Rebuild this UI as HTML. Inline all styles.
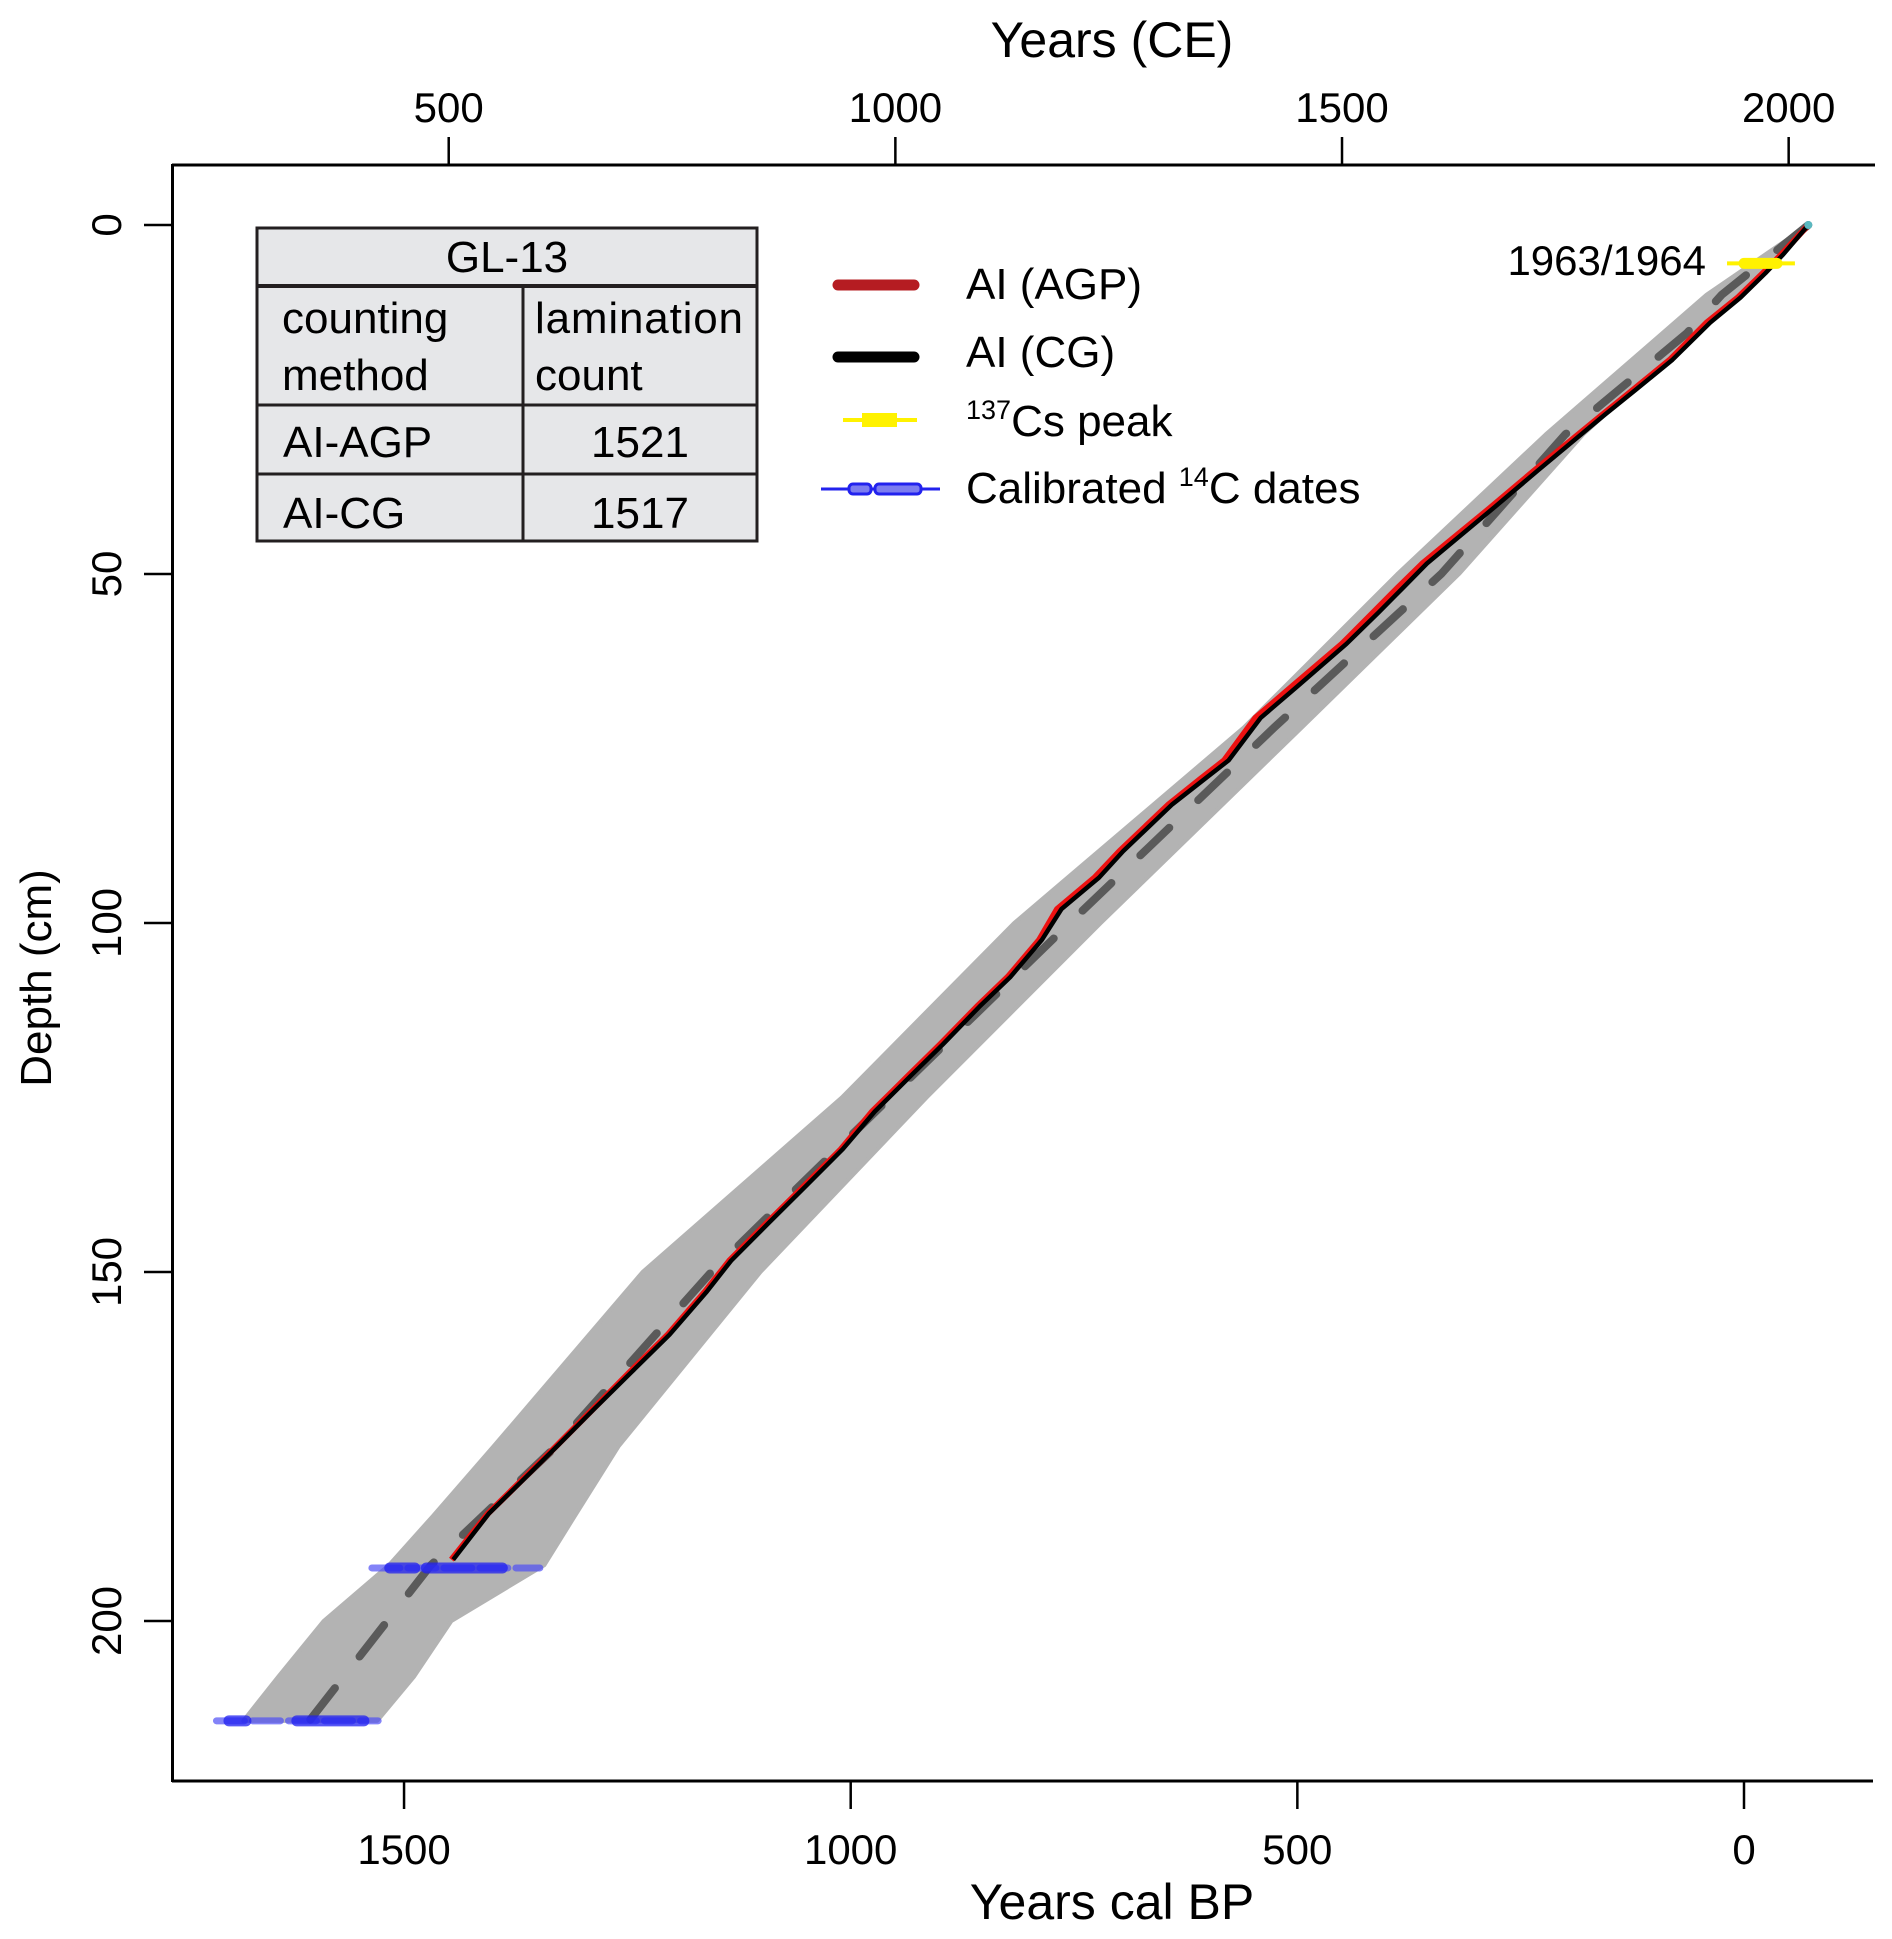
<!DOCTYPE html>
<html><head><meta charset="utf-8">
<style>
html,body{margin:0;padding:0;background:#fff;}
svg{display:block;font-family:"Liberation Sans",Arial,sans-serif;}
</style></head>
<body>
<svg id="chart" width="1892" height="1939" viewBox="0 0 1892 1939" xmlns="http://www.w3.org/2000/svg">
<g id="band"></g>
<g id="median"></g>
<g id="curves"></g>
<g id="dates"></g>
<g id="axes"></g>

<g>
  <rect x="257" y="228" width="500" height="313" fill="#e6e7e9" stroke="#231f20" stroke-width="3"/>
  <line x1="257" y1="286" x2="757" y2="286" stroke="#231f20" stroke-width="4"/>
  <line x1="257" y1="405" x2="757" y2="405" stroke="#231f20" stroke-width="3"/>
  <line x1="257" y1="474" x2="757" y2="474" stroke="#231f20" stroke-width="3"/>
  <line x1="523" y1="286" x2="523" y2="541" stroke="#231f20" stroke-width="3"/>
  <g font-size="44" fill="#000">
    <text x="507" y="272" text-anchor="middle">GL-13</text>
    <text x="282" y="333">counting</text>
    <text x="282" y="390">method</text>
    <text x="535" y="333" textLength="208">lamination</text>
    <text x="535" y="390">count</text>
    <text x="283" y="457">AI-AGP</text>
    <text x="640" y="457" text-anchor="middle">1521</text>
    <text x="283" y="528">AI-CG</text>
    <text x="640" y="528" text-anchor="middle">1517</text>
  </g>
</g>

<g font-size="44" fill="#000">
  <g>
    <line x1="838" y1="285" x2="914" y2="285" stroke="#b51c22" stroke-width="11" stroke-linecap="round"/>
    <text x="966" y="299">AI (AGP)</text>
  </g>
  <g>
    <line x1="838" y1="357" x2="914" y2="357" stroke="#000" stroke-width="11" stroke-linecap="round"/>
    <text x="966" y="367">AI (CG)</text>
  </g>
  <g>
    <line x1="843" y1="420" x2="917" y2="420" stroke="#fff200" stroke-width="4"/>
    <rect x="862" y="413" width="35" height="14" fill="#fff200"/>
    <text x="966" y="436"><tspan font-size="27" dy="-17">137</tspan><tspan dy="17">Cs peak</tspan></text>
  </g>
  <g>
    <line x1="821" y1="489" x2="940" y2="489" stroke="#2222ee" stroke-width="3"/>
    <rect x="849" y="484" width="22" height="10" rx="4" fill="#7c7cf0" stroke="#2222ee" stroke-width="3"/>
    <rect x="875" y="484" width="46" height="10" rx="4" fill="#7c7cf0" stroke="#2222ee" stroke-width="3"/>
    <text x="966" y="503">Calibrated <tspan font-size="27" dy="-17">14</tspan><tspan dy="17">C dates</tspan></text>
  </g>
</g>

<text x="1706" y="275" font-size="42" text-anchor="end">1963/1964</text>

<text x="1112" y="57" font-size="50" text-anchor="middle">Years (CE)</text>
<text x="1112" y="1919" font-size="50" text-anchor="middle">Years cal BP</text>
<text transform="translate(51,978) rotate(-90)" font-size="44" text-anchor="middle">Depth (cm)</text>

<script>
// ---- data ----
var agpDepth = [0, 4.2, 6.9, 10.4, 14, 19.3, 23.7, 27.2, 35.2, 40.5, 48.5, 52, 55.5, 60, 66, 70.6, 76.7, 79.4, 83, 89.7, 93.5, 98, 102.4, 107.7, 112, 117.4, 121.8, 127, 132.4, 137.8, 143, 148.4, 152.8, 159, 164.3, 169.6, 175, 180.2, 184.6, 191.2];
var agpBP = [-72, -42, -21, 7, 42, 83, 125, 159, 235, 284, 360, 388, 415, 450, 505, 547, 582, 609, 644, 699, 727, 769, 789, 824, 859, 900, 935, 976, 1011, 1053, 1094, 1136, 1163, 1205, 1247, 1288, 1330, 1371, 1406, 1447];
var cgDepth = [0, 4.2, 6.9, 10.4, 14, 19.3, 23.7, 27.2, 35.2, 40.5, 48.5, 52, 55.5, 60, 66, 70.6, 76.7, 79.4, 83, 89.7, 93.5, 98, 102.4, 107.7, 112, 117.4, 121.8, 127, 132.4, 137.8, 143, 148.4, 152.8, 159, 164.3, 169.6, 175, 180.2, 184.6, 191.2];
var cgBP = [-72, -44, -24, 4, 38, 80, 122, 156, 231, 280, 355, 382, 409, 445, 499, 541, 577, 604, 640, 695, 722, 764, 786, 821, 856, 897, 932, 973, 1009, 1051, 1092, 1134, 1161, 1203, 1245, 1287, 1329, 1370, 1405, 1445];
var medianDepth = [0, 10, 15.5, 30, 50, 72, 100, 125, 150, 175, 192, 214.3];
var medianBP = [-72, 25, 64, 200, 339, 526, 755, 956, 1156, 1330, 1470, 1606];
var bandDepth = [0, 10, 30, 50, 72, 100, 125, 150, 175, 185, 192, 200, 208, 214.3];
var bandYoung = [-72, 8, 180, 319, 495, 720, 915, 1101, 1260, 1309, 1343, 1447, 1489, 1530];
var bandOld = [-72, 42, 222, 388, 560, 817, 1010, 1233, 1400, 1468, 1517, 1590, 1641, 1680];
var dateDepths = [192.4, 214.3];
var date2sLo = [[1536, 1348], [1710, 1529]];
var date1s = [[[1516, 1488], [1475, 1390]], [[1696, 1677], [1620, 1545]]];
var csDepth = 5.5, csRange = [-57, 19], csCore = [-37, 0];
var bpTicks = [1500, 1000, 500, 0];
var ceTicks = [500, 1000, 1500, 2000];
var depthTicks = [0, 50, 100, 150, 200];

// ---- scales ----
function x(bp){ return 1744 - 0.8933*bp; }
function xCE(ce){ return x(1950 - ce); }
function y(d){ return 225 + 6.98*d; }
var NS = "http://www.w3.org/2000/svg";
function mk(tag, parent, attrs){ var e=document.createElementNS(NS,tag); for(var k in attrs) e.setAttribute(k, attrs[k]); parent.appendChild(e); return e; }
function pts(bps, ds){ return bps.map(function(b,i){ return x(b).toFixed(1)+","+y(ds[i]).toFixed(1); }).join(" "); }

// band
var bandG = document.getElementById("band");
var bp = bandYoung.map(function(b,i){ return x(b)+","+y(bandDepth[i]); });
for (var i=bandOld.length-1;i>=0;i--) bp.push(x(bandOld[i])+","+y(bandDepth[i]));
var poly = mk("polygon", bandG, {points: bp.join(" "), fill:"#b3b3b3", stroke:"#b3b3b3", "stroke-width":"4", "stroke-linejoin":"round"});



// median
var med = mk("polyline", document.getElementById("median"), {points: pts(medianBP, medianDepth), fill:"none", stroke:"#5a5a5a", "stroke-width":"8", "stroke-dasharray":"40 40", "stroke-linecap":"round"});



// curves
var cg = document.getElementById("curves");
var redL = mk("polyline", cg, {points: pts(agpBP, agpDepth), fill:"none", stroke:"#ee1111", "stroke-width":"6", "stroke-linejoin":"round"});


var blkL = mk("polyline", cg, {points: pts(cgBP, cgDepth), fill:"none", stroke:"#000", "stroke-width":"4.5", "stroke-linejoin":"round"});


var dot = mk("circle", cg, {cx: x(agpBP[0]), cy: y(0), r: 4, fill:"#5ab8c0"});



// dates
var dg = document.getElementById("dates");
dateDepths.forEach(function(d,i){
  var l = mk("line", dg, {x1:x(date2sLo[i][0]), x2:x(date2sLo[i][1]), y1:y(d), y2:y(d), stroke:"#4f4ff5", "stroke-opacity":"0.7", "stroke-width":"7", "stroke-dasharray":"28 8", "stroke-linecap":"round"});
  
  
  date1s[i].forEach(function(r){
    var t = mk("line", dg, {x1:x(r[0]), x2:x(r[1]), y1:y(d), y2:y(d), stroke:"#2020f0", "stroke-opacity":"0.75", "stroke-width":"11", "stroke-linecap":"round"});
    
    
  });
});
var cs1 = mk("line", dg, {x1:x(csRange[0]), x2:x(csRange[1]), y1:y(csDepth), y2:y(csDepth), stroke:"#fff200", "stroke-width":"4"});


var cs2 = mk("line", dg, {x1:x(csCore[0]), x2:x(csCore[1]), y1:y(csDepth), y2:y(csDepth), stroke:"#fff200", "stroke-width":"11", "stroke-linecap":"round"});



// axes
var ag = document.getElementById("axes");
var ax = {stroke:"#000", "stroke-width":"3"};
var a1 = mk("line", ag, Object.assign({x1:172, x2:1873, y1:1781, y2:1781}, ax));


var a2 = mk("line", ag, Object.assign({x1:172, x2:1875, y1:165, y2:165}, ax));


var a3 = mk("line", ag, Object.assign({x1:172.5, x2:172.5, y1:164, y2:1782}, ax));


bpTicks.forEach(function(t){
  mk("line", ag, {x1:x(t), x2:x(t), y1:1781, y2:1809, stroke:"#000", "stroke-width":"2.5"});
  var tx = mk("text", ag, {x:x(t), y:1864, "font-size":"42", "text-anchor":"middle"});
  tx.textContent = t;
  
  
});
ceTicks.forEach(function(t){
  mk("line", ag, {x1:xCE(t), x2:xCE(t), y1:137, y2:165, stroke:"#000", "stroke-width":"2.5"});
  var tx = mk("text", ag, {x:xCE(t), y:122, "font-size":"42", "text-anchor":"middle"});
  tx.textContent = t;
  
  
});
depthTicks.forEach(function(t){
  mk("line", ag, {x1:144, x2:172, y1:y(t), y2:y(t), stroke:"#000", "stroke-width":"2.5"});
  var tx = mk("text", ag, {x:0, y:0, "font-size":"42", "text-anchor":"middle", transform:"translate(121,"+y(t)+") rotate(-90)"});
  tx.textContent = t;
  
  
});
</script>
</svg>
</body></html>
